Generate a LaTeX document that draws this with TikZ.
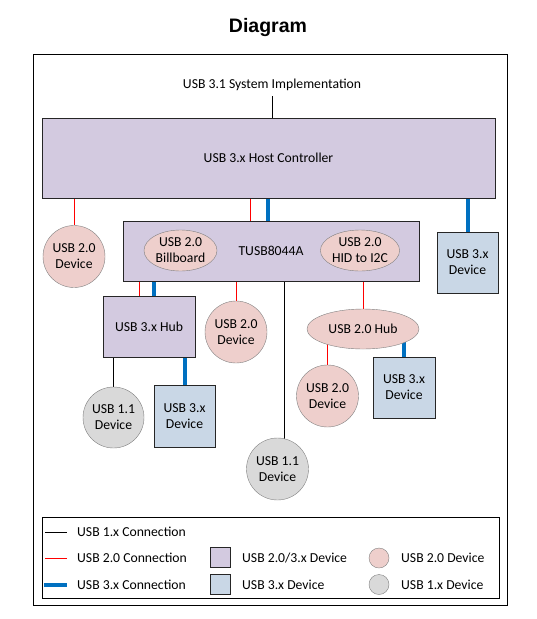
\documentclass[tikz,border=0pt]{standalone}
\usepackage{fontspec}
\setmainfont{Carlito}
\newfontfamily\titlefont{Liberation Sans}
\usetikzlibrary{shapes.geometric, positioning}
\pgfdeclarelayer{background}
\pgfsetlayers{background,main}
\definecolor{hubfill}{HTML}{D3CAE0}
\definecolor{twofill}{HTML}{EECFCC}
\definecolor{threefill}{HTML}{C9D7E6}
\definecolor{onefill}{HTML}{D9D9D9}
\definecolor{usbblue}{HTML}{0070C0}

\begin{document}
\begin{tikzpicture}[x=1pt, y=-1pt, font=\fontsize{13.7}{16}\selectfont,
  hubbox/.style={draw=black!85, fill=hubfill, inner sep=0pt, align=center},
  threebox/.style={draw=black!85, fill=threefill, inner sep=0pt, align=center, minimum width=61, minimum height=61},
  twodev/.style={circle, draw=black!50, fill=twofill, inner sep=0pt, align=center, minimum size=62},
  onedev/.style={circle, draw=black!50, fill=onefill, inner sep=0pt, align=center, minimum size=62},
  twoell/.style={ellipse, draw=black!50, fill=twofill, inner sep=0pt, align=center},
  usbone/.style={black, line width=0.8pt},
  usbtwo/.style={red, line width=0.8pt},
  usbthree/.style={usbblue, line width=4pt},
  legtext/.style={anchor=west, inner sep=0pt}]
\useasboundingbox (0,0) rectangle (537,619);

% title and frame
\node (title) at (268,27) {\titlefont\bfseries\fontsize{19.5}{22}\selectfont Diagram};
\node[draw, line width=1pt, minimum width=474, minimum height=551, inner sep=0pt] (frame) at (270,329.5) {};
\node[inner sep=5pt] (sys) at (272,85) {USB 3.1 System Implementation};

% host and hub chip
\node[hubbox, minimum width=453, minimum height=80] (host) at (268.5,158) {USB 3.x Host Controller};
\node[hubbox, minimum width=296, minimum height=60] (tusb) at (271,251) {TUSB8044A};
\node[twoell, minimum width=73, minimum height=41] (bill) at (180.5,250.5) {USB 2.0\\Billboard};
\node[twoell, minimum width=74, minimum height=41] (hid) at (360,250.5) {USB 2.0\\HID to I2C};

% downstream
\node[twodev] (dev2a) at (74,256.5) {USB 2.0\\Device};
\node[threebox] (dev3a) at (467.5,262.5) {USB 3.x\\Device};
\node[hubbox, minimum width=92, minimum height=61] (hub3) at (149,326.5) {USB 3.x Hub};
\node[twodev] (dev2b) at (236,332) {USB 2.0\\Device};
\node[twoell, minimum width=112, minimum height=40] (hub2) at (363,329) {USB 2.0 Hub};
\node[onedev, minimum size=61] (dev1a) at (113.5,417.5) {USB 1.1\\Device};
\node[threebox, minimum height=62] (dev3b) at (184.5,416) {USB 3.x\\Device};
\node[twodev] (dev2c) at (327.5,396) {USB 2.0\\Device};
\node[threebox, minimum width=62] (dev3c) at (404,387.5) {USB 3.x\\Device};
\node[onedev] (dev1b) at (277.5,469) {USB 1.1\\Device};

\begin{pgfonlayer}{background}
\fill[white] (0,0) rectangle (537,619);
\draw[usbone] (sys.south) -- (sys.south |- host.center);
\draw[usbtwo] (host -| dev2a) -- (dev2a);
\draw[usbtwo] ([xshift=-21pt]tusb.center) -- ([xshift=-21pt]tusb.center |- host.center);
\draw[usbthree] ([xshift=-3pt]tusb.center) -- ([xshift=-3pt]tusb.center |- host.center);
\draw[usbthree] (host -| dev3a) -- (dev3a);
\draw[usbtwo] ([xshift=-10pt]hub3.center) -- ([xshift=-10pt]hub3.center |- tusb.center);
\draw[usbthree] ([xshift=5pt]hub3.center) -- ([xshift=5pt]hub3.center |- tusb.center);
\draw[usbtwo] (tusb -| dev2b) -- (dev2b);
\draw[usbone] ([xshift=6.5pt]dev1b.center) -- ([xshift=6.5pt]dev1b.center |- tusb.center);
\draw[usbtwo] (tusb -| hub2) -- (hub2);
\draw[usbone] (hub3 -| dev1a) -- (dev1a);
\draw[usbthree] (hub3 -| dev3b) -- (dev3b);
\draw[usbtwo] (hub2 -| dev2c) -- (dev2c);
\draw[usbthree] (hub2 -| dev3c) -- (dev3c);
\end{pgfonlayer}

% legend
\node[draw, line width=0.8pt, minimum width=457, minimum height=81, inner sep=0pt] (legend) at (270.5,557.5) {};
\coordinate (la1) at (45,532);   \coordinate (lb1) at (67,532);
\coordinate (la2) at (45,558);   \coordinate (lb2) at (67,558);
\coordinate (la3) at (44,584.5); \coordinate (lb3) at (67,584.5);
\draw[usbone] (la1) -- (lb1);
\draw[usbtwo] (la2) -- (lb2);
\draw[usbthree] (la3) -- (lb3);
\node[legtext] (lt1) at (77,532) {USB 1.x Connection};
\node[legtext] (lt2) at (77,558) {USB 2.0 Connection};
\node[legtext] (lt3) at (77,584.5) {USB 3.x Connection};
\node[hubbox, minimum size=20] (lhub) at (220,557) {};
\node[threebox, minimum size=20] (lthree) at (220,584.5) {};
\node[legtext] (lt4) at (242,558) {USB 2.0/3.x Device};
\node[legtext] (lt5) at (242,584.5) {USB 3.x Device};
\node[twodev, minimum size=20] (ltwo) at (379,558) {};
\node[onedev, minimum size=20] (lone) at (379,584.5) {};
\node[legtext] (lt6) at (401,558) {USB 2.0 Device};
\node[legtext] (lt7) at (401,584.5) {USB 1.x Device};
\end{tikzpicture}
\end{document}
